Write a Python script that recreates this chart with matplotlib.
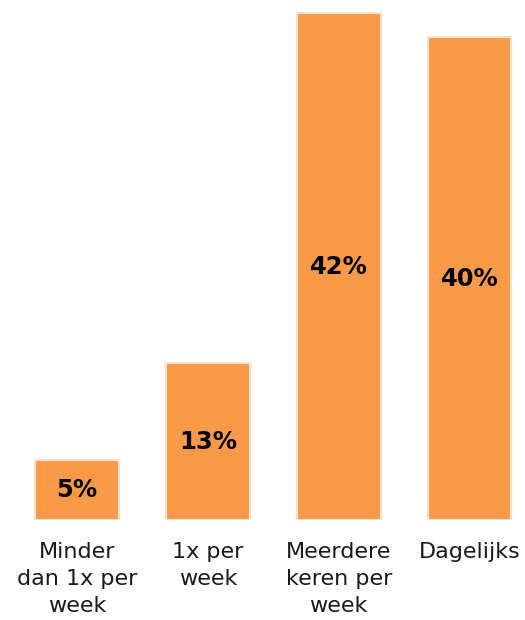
import matplotlib
matplotlib.use("Agg")
import matplotlib.pyplot as plt

categories = ["Minder\ndan 1x per\nweek", "1x per\nweek", "Meerdere\nkeren per\nweek", "Dagelijks"]
values = [5, 13, 42, 40]
value_labels = ["5%", "13%", "42%", "40%"]

plt.rcParams['font.family'] = ['DejaVu Sans']

fig = plt.figure(figsize=(5.25, 6.2), dpi=100)
ax = fig.add_axes([0, 100/620, 1, 520/620])
x = list(range(len(categories)))
ax.bar(x, values, width=0.64, color='#FA9A48', edgecolor='#FBE3D0', linewidth=1.5)
ax.set_xlim(-0.589, 3.424)
ax.set_ylim(0, 42*520/507)
for xi, v, lab in zip(x, values, value_labels):
    ax.text(xi, v/2, lab, ha='center', va='center', fontsize=17.5, fontweight='bold', color='black')
for xi, c in zip(x, categories):
    ax.text(xi, -1.8, c, ha='center', va='top', fontsize=16, color='#1a1a1a', linespacing=1.45)
ax.axis('off')
fig.savefig('out.png', dpi=100)
